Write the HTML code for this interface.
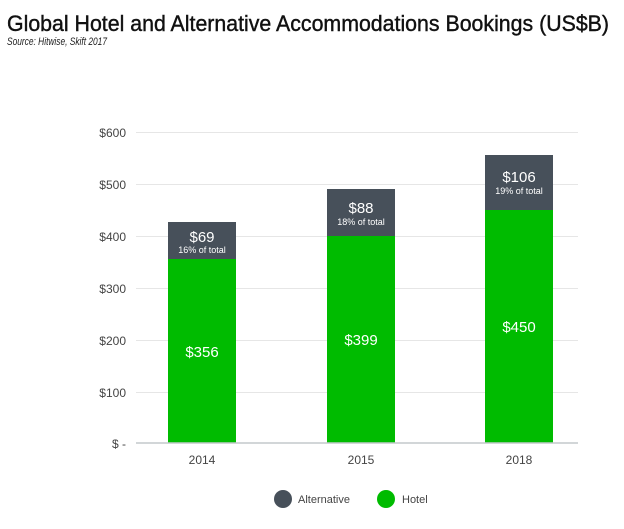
<!DOCTYPE html>
<html><head><meta charset="utf-8"><style>
html,body{margin:0;padding:0;background:#fff;}
svg{display:block;font-family:"Liberation Sans",sans-serif;}
</style></head><body>
<svg width="624" height="529" viewBox="0 0 624 529" xmlns="http://www.w3.org/2000/svg">
<text x="7" y="31" font-size="22" fill="#111" stroke="#111" stroke-width="0.4" textLength="602" lengthAdjust="spacingAndGlyphs">Global Hotel and Alternative Accommodations Bookings (US$B)</text>
<text x="7" y="45" font-size="11" font-style="italic" fill="#222" textLength="100" lengthAdjust="spacingAndGlyphs">Source: Hitwise, Skift 2017</text>
<g stroke="#e6e6e6" stroke-width="1">
<line x1="136" y1="132.5" x2="578" y2="132.5"/>
<line x1="136" y1="184.5" x2="578" y2="184.5"/>
<line x1="136" y1="236.5" x2="578" y2="236.5"/>
<line x1="136" y1="288.5" x2="578" y2="288.5"/>
<line x1="136" y1="340.5" x2="578" y2="340.5"/>
<line x1="136" y1="392.5" x2="578" y2="392.5"/>
</g>
<g font-size="12" fill="#444" text-anchor="end">
<text x="126" y="137">$600</text>
<text x="126" y="189">$500</text>
<text x="126" y="241">$400</text>
<text x="126" y="293">$300</text>
<text x="126" y="345">$200</text>
<text x="126" y="397">$100</text>
<text x="126" y="448">$ -</text>
</g>
<rect x="168" y="222" width="68" height="37" fill="#47505a"/>
<rect x="168" y="259" width="68" height="184" fill="#00bb00"/>
<rect x="327" y="189" width="68" height="47" fill="#47505a"/>
<rect x="327" y="236" width="68" height="207" fill="#00bb00"/>
<rect x="485" y="155" width="68" height="55" fill="#47505a"/>
<rect x="485" y="210" width="68" height="233" fill="#00bb00"/>
<line x1="136" y1="443" x2="578" y2="443" stroke="#c4c8cc" stroke-width="1.5"/>
<g fill="#fff" text-anchor="middle">
<text x="202" y="242" font-size="15">$69</text>
<text x="202" y="253" font-size="9">16% of total</text>
<text x="361" y="213" font-size="15">$88</text>
<text x="361" y="225" font-size="9">18% of total</text>
<text x="519" y="182" font-size="15">$106</text>
<text x="519" y="194" font-size="9">19% of total</text>
<text x="202" y="357" font-size="15">$356</text>
<text x="361" y="345" font-size="15">$399</text>
<text x="519" y="332" font-size="15">$450</text>
</g>
<g font-size="12" fill="#444" text-anchor="middle">
<text x="202" y="464">2014</text>
<text x="361" y="464">2015</text>
<text x="519" y="464">2018</text>
</g>
<circle cx="283" cy="499" r="9" fill="#47505a"/>
<text x="298" y="503" font-size="11" fill="#444">Alternative</text>
<circle cx="386" cy="499" r="9" fill="#00bb00"/>
<text x="402" y="503" font-size="11" fill="#444">Hotel</text>
</svg>
</body></html>
